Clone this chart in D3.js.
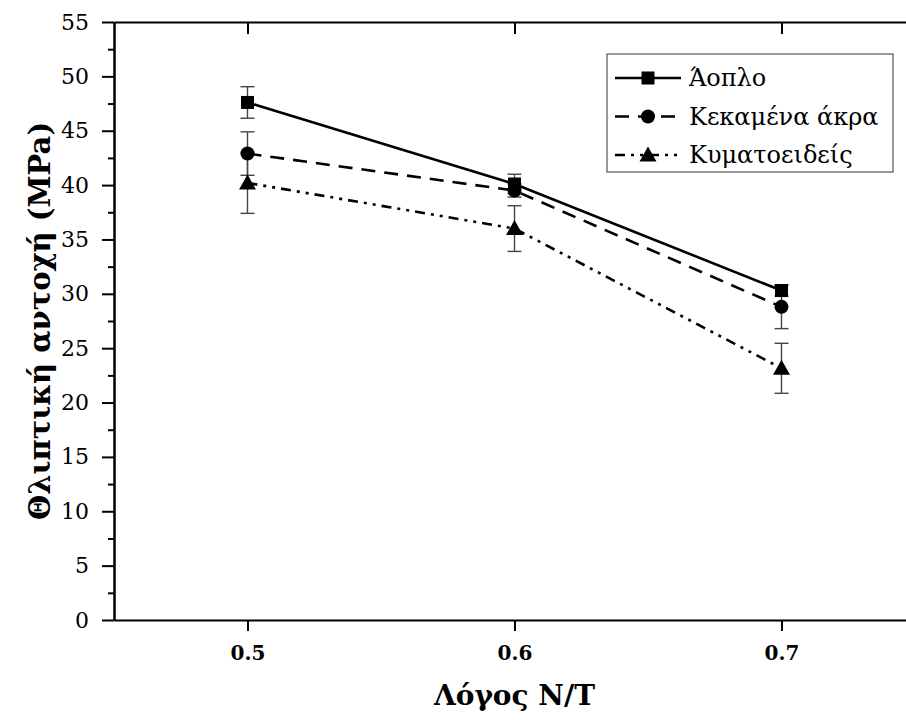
<!DOCTYPE html>
<html><head><meta charset="utf-8">
<script src="https://cdn.jsdelivr.net/npm/d3@7"></script>
<style>body{margin:0;background:#fff}svg{display:block}</style>
</head><body>
<svg id="c" width="906" height="720"></svg>
<script>
const xValues = [0.5, 0.6, 0.7];
const seriesNames = ["Άοπλο", "Κεκαμένα άκρα", "Κυματοειδείς"];
const plainValues = [47.6, 40.1, 30.3];
const plainErr = [1.45, 0.9, 0.5];
const bentValues = [42.9, 39.5, 28.8];
const bentErr = [2.0, 0.6, 2.0];
const waveValues = [40.2, 36.0, 23.15];
const waveErr = [2.8, 2.1, 2.3];
const yTicks = [0,5,10,15,20,25,30,35,40,45,50,55];
const xTicks = [0.5, 0.6, 0.7];

const series = [
  {name: seriesNames[0], values: plainValues, err: plainErr, dash: null, marker: "square"},
  {name: seriesNames[1], values: bentValues, err: bentErr, dash: "14,9", marker: "circle"},
  {name: seriesNames[2], values: waveValues, err: waveErr, dash: "10,6,3,6,3,6", marker: "triangle"}
];

const FONT = "DejaVu Serif";
const svg = d3.select("#c");
const L = 114, R = 915, T = 22, B = 620;
const x = d3.scaleLinear().domain([0.45, 0.75]).range([L, R]);
const y = d3.scaleLinear().domain([0, 55]).range([B, T]);

const line = d3.line().x((d,i) => x(xValues[i])).y(d => y(d));
series.forEach(s => {
  svg.append("path").datum(s.values).attr("d", line)
    .attr("fill","none").attr("stroke","#000").attr("stroke-width",2.6)
    .attr("stroke-dasharray", s.dash);
});
series.forEach(s => {
  s.values.forEach((v,i) => {
    const cx = x(xValues[i]);
    const g = svg.append("g").attr("stroke","#444").attr("stroke-width",1.4);
    g.append("line").attr("x1",cx).attr("x2",cx).attr("y1",y(v+s.err[i])).attr("y2",y(v-s.err[i]));
    g.append("line").attr("x1",cx-7).attr("x2",cx+7).attr("y1",y(v+s.err[i])).attr("y2",y(v+s.err[i]));
    g.append("line").attr("x1",cx-7).attr("x2",cx+7).attr("y1",y(v-s.err[i])).attr("y2",y(v-s.err[i]));
  });
});
function marker(g, type, cx, cy) {
  if (type === "square") g.append("rect").attr("x",cx-6.5).attr("y",cy-6.5).attr("width",13).attr("height",13).attr("fill","#000");
  else if (type === "circle") g.append("circle").attr("cx",cx).attr("cy",cy).attr("r",7).attr("fill","#000");
  else g.append("path").attr("d",`M${cx},${cy-8.5}L${cx+8.5},${cy+6.5}L${cx-8.5},${cy+6.5}Z`).attr("fill","#000");
}
series.forEach(s => s.values.forEach((v,i) => marker(svg, s.marker, x(xValues[i]), y(v))));

const axStyle = g => { g.attr("font-family", FONT).attr("font-size", 20);
  g.select(".domain").attr("stroke","#000").attr("stroke-width",2);
  g.selectAll(".tick line").attr("stroke","#000").attr("stroke-width",2); };
const yMinor = d3.range(2.5, 55, 5);
svg.append("g").attr("transform",`translate(${L},0)`)
  .call(d3.axisLeft(y).tickValues(yMinor).tickSize(6).tickFormat("").tickSizeOuter(0)).call(axStyle);
svg.append("g").attr("transform",`translate(${L},0)`)
  .call(d3.axisLeft(y).tickValues(yTicks).tickSize(12).tickPadding(13).tickSizeOuter(0)).call(axStyle)
  .call(g => g.selectAll("text").attr("font-size",22).attr("fill","#000"));
svg.append("g").attr("transform",`translate(${R},0)`)
  .call(d3.axisLeft(y).tickValues(yTicks).tickSize(-12).tickFormat("").tickSizeOuter(0)).call(axStyle);
svg.append("g").attr("transform",`translate(0,${B})`)
  .call(d3.axisBottom(x).tickValues(xTicks).tickSize(11).tickPadding(15).tickFormat(d3.format(".1f")).tickSizeOuter(0)).call(axStyle)
  .call(g => g.selectAll("text").attr("font-weight","bold").attr("fill","#000"));
svg.append("g").attr("transform",`translate(0,${T})`)
  .call(d3.axisTop(x).tickValues(xTicks).tickSize(-12).tickFormat("").tickSizeOuter(0)).call(axStyle);

svg.append("text").attr("x",x(0.6)).attr("y",705).attr("text-anchor","middle")
  .attr("font-family",FONT).attr("font-size",28).attr("font-weight","bold").text("Λόγος N/T");
svg.append("text").attr("transform",`translate(50,${(T+B)/2}) rotate(-90)`).attr("text-anchor","middle")
  .attr("font-family",FONT).attr("font-size",29).attr("font-weight","bold").text("Θλιπτική αντοχή (MPa)");

const lg = svg.append("g");
lg.append("rect").attr("x",607).attr("y",54).attr("width",286).attr("height",118)
  .attr("fill","#fff").attr("stroke","#555").attr("stroke-width",1.2);
series.forEach((s,i) => {
  const ly = 78 + i*38.5;
  lg.append("line").attr("x1",615).attr("x2",681).attr("y1",ly).attr("y2",ly)
    .attr("stroke","#000").attr("stroke-width",2.6).attr("stroke-dasharray", s.dash);
  marker(lg, s.marker, 648, ly);
  lg.append("text").attr("x",689).attr("y",ly+8).attr("font-family",FONT).attr("font-size",24).text(s.name);
});
</script>
</body></html>
